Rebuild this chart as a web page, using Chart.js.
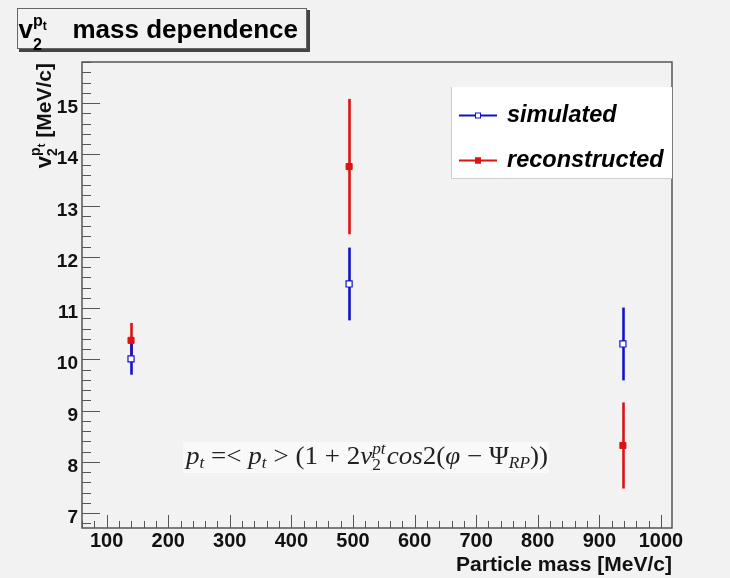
<!DOCTYPE html>
<html>
<head>
<meta charset="utf-8">
<script src="https://cdn.jsdelivr.net/npm/chart.js@4.4.1/dist/chart.umd.min.js"></script>
<style>
  html,body{margin:0;padding:0;background:#f2f2f2;}
  canvas{display:block;}
</style>
</head>
<body>
<canvas id="c" width="730" height="578"></canvas>
<script>
// particle masses (pi, K, p) and v2 values
const masses = [139.6, 493.7, 938.3];
const simulated = [10.01, 11.47, 10.30];
const simulatedErr = [0.31, 0.71, 0.71];
const reconstructed = [10.37, 13.76, 8.32];
const reconstructedErr = [0.34, 1.32, 0.84];

const xTicks = [100,200,300,400,500,600,700,800,900,1000];
const yTicks = [7,8,9,10,11,12,13,14,15];
const xMinorStep = 20, yMinorStep = 0.2;
const xRange = [60, 1018], yRange = [6.71, 15.8];

const BLUE = "#1212c8", RED = "#dd1313", AXIS = "#555";
const SANS = '"Liberation Sans", Arial, sans-serif';
const SERIF = '"Liberation Serif", "Times New Roman", serif';

function pts(ys){ return masses.map((m,i)=>({x:m,y:ys[i]})); }

// draws text runs (sub/superscripts) left to right from x,y
function runs(ctx, list, x, y){
  let cx = x;
  for(const r of list){
    ctx.font = r.f;
    if(r.at != null) cx = x + r.at;
    ctx.fillText(r.t, cx, y + (r.dy||0));
    if(!r.noAdv) cx += ctx.measureText(r.t).width + (r.gap||0);
  }
  return cx - x;
}
function runsWidth(ctx, list){
  let w=0; for(const r of list){ ctx.font=r.f; if(!r.noAdv) w+=ctx.measureText(r.t).width+(r.gap||0); } return w;
}

const rootStyle = {
  id: "rootStyle",
  beforeDraw(chart){
    const ctx = chart.ctx;
    ctx.save(); ctx.fillStyle = "#f2f2f2"; ctx.fillRect(0,0,chart.width,chart.height); ctx.restore();
  },
  beforeDatasetsDraw(chart){
    const ctx = chart.ctx, xs = chart.scales.x, ys = chart.scales.y;
    const bars = [[reconstructed, reconstructedErr, RED],[simulated, simulatedErr, BLUE]];
    ctx.save(); ctx.lineWidth = 2.6; ctx.lineCap = "butt";
    for(const [vals, errs, col] of bars){
      ctx.strokeStyle = col;
      vals.forEach((v,i)=>{
        const px = Math.round(xs.getPixelForValue(masses[i])) + 0.5;
        ctx.beginPath();
        ctx.moveTo(px, ys.getPixelForValue(v - errs[i]));
        ctx.lineTo(px, ys.getPixelForValue(v + errs[i]));
        ctx.stroke();
      });
    }
    ctx.restore();
  },
  afterDraw(chart){
    const ctx = chart.ctx, xs = chart.scales.x, ys = chart.scales.y, a = chart.chartArea;
    ctx.save();

    // frame
    ctx.strokeStyle = AXIS; ctx.lineWidth = 1.5;
    ctx.strokeRect(a.left, a.top, a.right - a.left, a.bottom - a.top);

    // ticks
    ctx.lineWidth = 1; ctx.strokeStyle = AXIS;
    ctx.beginPath();
    for(let v = 60; v <= xRange[1]; v += xMinorStep){
      const px = Math.round(xs.getPixelForValue(v)) + 0.5;
      const len = xTicks.includes(v) ? 13 : 7;
      ctx.moveTo(px, a.bottom); ctx.lineTo(px, a.bottom - len);
    }
    for(let k = Math.ceil(yRange[0]/yMinorStep); k*yMinorStep <= yRange[1]; k++){
      const v = +(k*yMinorStep).toFixed(2);
      const py = Math.round(ys.getPixelForValue(v)) + 0.5;
      const len = yTicks.includes(v) ? 18 : 9;
      ctx.moveTo(a.left, py); ctx.lineTo(a.left + len, py);
    }
    ctx.stroke();

    // tick labels
    ctx.fillStyle = "#111";
    ctx.font = "bold 20px " + SANS; ctx.textAlign = "center"; ctx.textBaseline = "alphabetic";
    xTicks.forEach(v => ctx.fillText(String(v), xs.getPixelForValue(v), 547));
    ctx.font = "bold 19px " + SANS; ctx.textAlign = "right";
    yTicks.forEach(v => ctx.fillText(String(v), 78, ys.getPixelForValue(v) + 10));

    // x title
    ctx.font = "bold 21px " + SANS; ctx.textAlign = "right";
    ctx.fillText("Particle mass [MeV/c]", a.right, 571);

    // y title (rotated), right-aligned to top of axis
    ctx.textAlign = "left";
    ctx.save();
    ctx.translate(51, a.top + 1); ctx.rotate(-Math.PI/2);
    const ytl = [
      {t:"v", f:"bold 22px "+SANS},
      {t:"2", f:"bold 14px "+SANS, dy:6, noAdv:true},
      {t:"p", f:"bold 14px "+SANS, dy:-11},
      {t:"t", f:"bold 11px "+SANS, dy:-6, gap:6},
      {t:"[MeV/c]", f:"bold 21px "+SANS}
    ];
    const yw = runsWidth(ctx, ytl);
    runs(ctx, ytl, -yw, 0);
    ctx.restore();

    // title box
    ctx.fillStyle = "#444"; ctx.fillRect(19, 10, 291, 42);
    ctx.fillStyle = "#f2f2f2"; ctx.fillRect(17, 8, 290, 41);
    ctx.strokeStyle = "#666"; ctx.lineWidth = 1; ctx.strokeRect(17.5, 8.5, 289, 40);
    ctx.fillStyle = "#000"; ctx.textAlign = "left";
    runs(ctx, [
      {t:"v", f:"bold 26px "+SANS},
      {t:"2", f:"bold 16px "+SANS, dy:12, noAdv:true},
      {t:"p", f:"bold 16px "+SANS, dy:-12},
      {t:"t", f:"bold 12px "+SANS, dy:-8},
      {t:"mass dependence", f:"bold 26px "+SANS, at:54}
    ], 18.5, 38);

    // legend
    ctx.fillStyle = "#ffffff"; ctx.fillRect(451, 87, a.right - 451, 91);
    ctx.strokeStyle = "#cfcfcf"; ctx.lineWidth = 1;
    ctx.beginPath(); ctx.moveTo(451.5, 87); ctx.lineTo(451.5, 178.5); ctx.lineTo(a.right, 178.5); ctx.stroke();
    const leg = [["simulated", BLUE, false, 115],["reconstructed", RED, true, 160]];
    for(const [lab, col, filled, ly] of leg){
      ctx.strokeStyle = col; ctx.lineWidth = 2;
      ctx.beginPath(); ctx.moveTo(459, ly + 0.5); ctx.lineTo(497, ly + 0.5); ctx.stroke();
      ctx.fillStyle = filled ? col : "#fff"; ctx.fillRect(475, ly - 2.5, 6, 6);
      ctx.lineWidth = 1; ctx.strokeRect(475.5, ly - 2, 5, 5);
      ctx.fillStyle = "#000"; ctx.font = "italic bold 23.5px " + SANS;
      ctx.textBaseline = "middle"; ctx.fillText(lab, 507, ly + 1);
    }
    ctx.textBaseline = "alphabetic";

    // formula, stretched to the width it has in the original
    ctx.fillStyle = "#f9f9f9"; ctx.fillRect(183, 442, 366, 31);
    ctx.fillStyle = "#222";
    const fs = 25, sm = 16;
    const I = "italic " + fs + "px " + SERIF, R = fs + "px " + SERIF;
    const IS = "italic " + sm + "px " + SERIF, RS = sm + "px " + SERIF;
    const fl = [
      {t:"p", f:I}, {t:"t", f:IS, dy:4},
      {t:" =< ", f:R},
      {t:"p", f:I}, {t:"t", f:IS, dy:4},
      {t:" > (1 + 2", f:R},
      {t:"v", f:I},
      {t:"2", f:RS, dy:6, noAdv:true},
      {t:"pt", f:IS, dy:-10, gap:1},
      {t:"cos", f:I}, {t:"2(", f:R},
      {t:"\u03c6", f:I}, {t:" \u2212 ", f:R},
      {t:"\u03a8", f:R}, {t:"RP", f:IS, dy:4},
      {t:"))", f:R}
    ];
    const fw = runsWidth(ctx, fl);
    ctx.save();
    ctx.translate(186, 464); ctx.scale(362 / fw, 1);
    runs(ctx, fl, 0, 0);
    ctx.restore();

    ctx.restore();
  }
};

new Chart(document.getElementById("c"), {
  type: "scatter",
  data: {
    datasets: [
      { label: "simulated", data: pts(simulated), pointStyle: "rect", pointRadius: 4.3,
        backgroundColor: "#ffffff", borderColor: BLUE, borderWidth: 1.2, showLine: false },
      { label: "reconstructed", data: pts(reconstructed), pointStyle: "rect", pointRadius: 4.3,
        backgroundColor: RED, borderColor: RED, borderWidth: 1, showLine: false }
    ]
  },
  options: {
    responsive: false,
    animation: false,
    devicePixelRatio: 1,
    layout: { padding: { left: 82, right: 58, top: 62, bottom: 50 } },
    plugins: { legend: { display: false }, tooltip: { enabled: false }, title: { display: false } },
    scales: {
      x: { type: "linear", min: xRange[0], max: xRange[1], display: false },
      y: { type: "linear", min: yRange[0], max: yRange[1], display: false }
    }
  },
  plugins: [rootStyle]
});
</script>
</body>
</html>
